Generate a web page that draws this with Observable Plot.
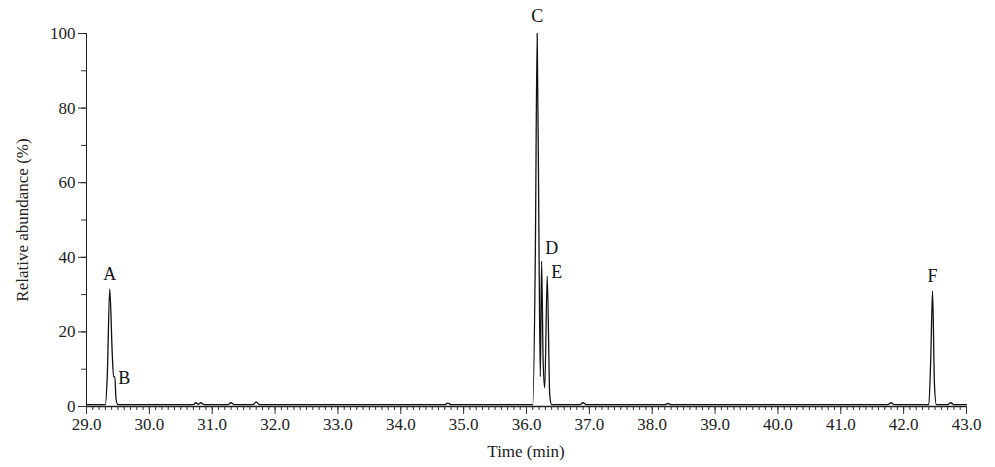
<!DOCTYPE html><html><head><meta charset="utf-8">
<script src="https://cdn.jsdelivr.net/npm/d3@7"></script>
<script src="https://cdn.jsdelivr.net/npm/@observablehq/plot@0.6"></script>
<style>body{margin:0;background:#fff} svg, svg text{font-family:'Liberation Serif','Times New Roman',serif !important}</style></head><body><div id="c"></div>
<script>
const times = [29.0,29.3,29.33,29.37,29.41,29.43,29.45,29.47,29.5,30.7,30.74,30.78,30.82,30.86,30.9,31.25,31.3,31.35,31.65,31.7,31.75,34.7,34.75,34.8,36.1,36.14,36.17,36.2,36.22,36.24,36.265,36.29,36.33,36.37,36.4,36.85,36.9,36.95,38.2,38.25,38.3,41.75,41.8,41.85,42.4,42.43,42.46,42.49,42.52,42.7,42.75,42.8,43.0];
const values= [0.5,0.5,8,31.5,14,8,8,2,0.5,0.5,1,0.6,1,0.6,0.5,0.5,1,0.5,0.5,1.2,0.5,0.5,0.9,0.5,0.5,40,100,40,8,39,12,5,35,3,0.5,0.5,1,0.5,0.5,0.8,0.5,0.5,1,0.5,0.5,12,31,6,0.5,0.5,1,0.5,0.5];
const peakLabels = ["A","B","C","D","E","F"];
const peakX = [29.37,29.6,36.17,36.4,36.48,42.46];
const peakY = [35.5,7.5,104.5,42.5,36,35];
const data = times.map((t,i)=>({t,v:values[i]}));
const labels = peakLabels.map((l,i)=>({l,x:peakX[i],y:peakY[i]}));
const xt = d3.range(29,43.01,1);
const blank = () => "";
const plot = Plot.plot({
  width:995,height:467,marginLeft:86,marginRight:29,marginTop:33,marginBottom:61,
  style:{fontSize:"17px",color:"#222"},
  x:{domain:[29,43],label:null},
  y:{domain:[0,100],label:null},
  marks:[
    Plot.axisX({ticks:d3.range(290,431,1).map(d=>d/10),tickFormat:blank,tickSize:4,stroke:"#333"}),
    Plot.axisX({ticks:xt,tickFormat:d=>d.toFixed(1),tickSize:8,tickPadding:3,fontSize:17,stroke:"#333"}),
    Plot.axisY({ticks:d3.range(0,101,10),tickFormat:blank,tickSize:5,stroke:"#333"}),
    Plot.axisY({ticks:d3.range(0,101,20),tickSize:8,tickPadding:3,fontSize:17,stroke:"#333"}),
    Plot.ruleY([0],{stroke:"#222",strokeWidth:1.5}),
    Plot.ruleX([29],{stroke:"#222"}),
    Plot.line(data,{x:"t",y:"v",stroke:"#111",strokeWidth:1.3,curve:"monotone-x"}),
    Plot.text(labels,{x:"x",y:"y",text:"l",fontSize:18,fill:"#111"})
  ]
});
document.getElementById("c").appendChild(plot);
const svg=d3.select(plot);
svg.append("text").attr("x",526).attr("y",457).attr("text-anchor","middle").attr("font-size",17).attr("fill","#222").text("Time (min)");
svg.append("text").attr("transform","translate(28,220) rotate(-90)").attr("text-anchor","middle").attr("font-size",17).attr("fill","#222").text("Relative abundance (%)");
</script></body></html>
